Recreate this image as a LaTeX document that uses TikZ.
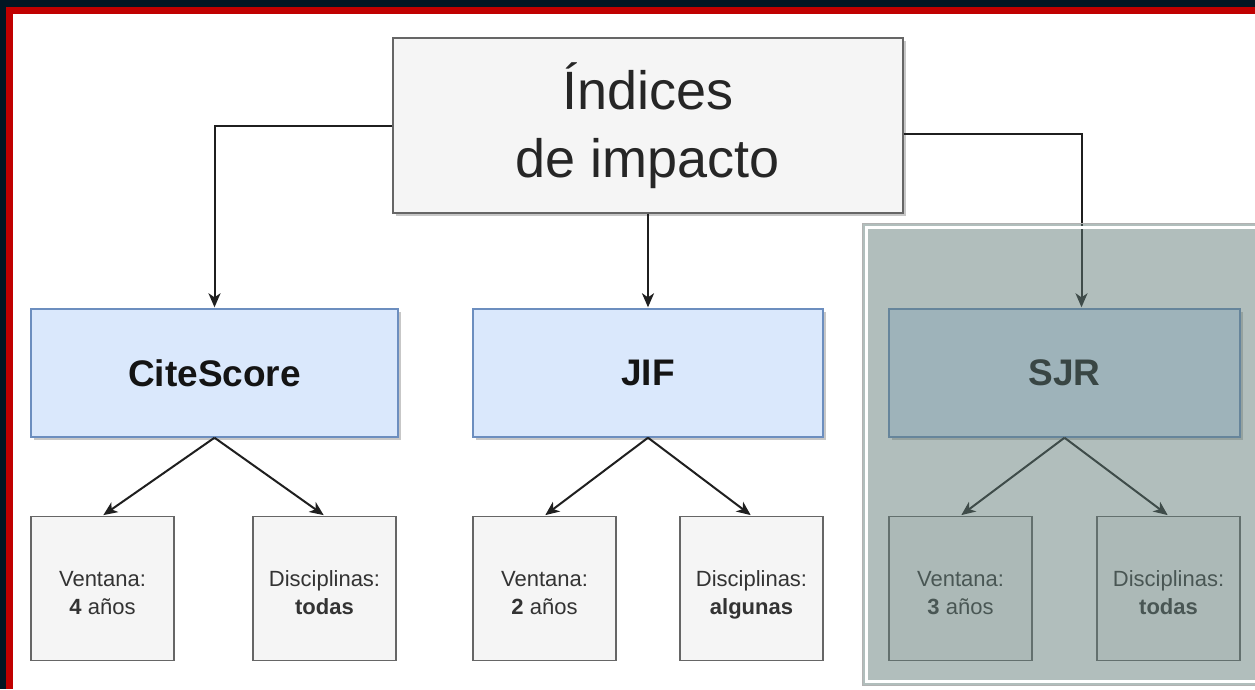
\documentclass[tikz,border=0pt]{standalone}
\usepackage{fontspec}
\setmainfont{Liberation Sans}
\usetikzlibrary{positioning,arrows.meta,shadows}

\definecolor{framenavy}{HTML}{021623}
\definecolor{framered}{HTML}{C00000}
\definecolor{boxgray}{HTML}{F5F5F5}
\definecolor{edgegray}{HTML}{666666}
\definecolor{boxblue}{HTML}{DAE8FC}
\definecolor{edgeblue}{HTML}{6C8EBF}
\definecolor{veil}{RGB}{97,124,119}
\definecolor{inkgray}{HTML}{333333}

% two lines of a leaf, with fixed top and bottom
\newcommand\leaftext[2]{\rule{0pt}{29pt}#1\\#2\rule[-5pt]{0pt}{5pt}}

\begin{document}
\begin{tikzpicture}[x=1pt,y=-1pt,shorten >=1pt,
            link/.style={-{Stealth[length=14pt,width=12pt,inset=4pt]},line width=2pt,draw=black!88},
            boxshadow/.style={drop shadow={shadow xshift=3pt,shadow yshift=-3pt,fill=black,opacity=0.22}},
            index node/.style={draw=edgegray,line width=1.4pt,fill=boxgray,boxshadow,minimum width=510pt,minimum height=175pt,
                align=center,text=black!85,font=\fontsize{54}{68}\selectfont},
            metric node/.style={draw=edgeblue,line width=1.4pt,fill=boxblue,boxshadow,minimum height=128pt,
                text=black!92,font=\fontsize{37}{42}\selectfont\bfseries},
            leaf node/.style={draw=edgegray,line width=1.4pt,fill=boxgray,minimum width=143pt,minimum height=144pt,
                align=center,text=inkgray,font=\fontsize{22}{28}\selectfont}]

        % Frame
        \useasboundingbox (0,0) rectangle (1255,689);
        \fill[white] (0,0) rectangle (1255,689);
        \fill[framenavy] (0,0) rectangle (1255,7);
        \fill[framenavy] (0,0) rectangle (6,689);
        \fill[framered] (6,7) rectangle (1255,14);
        \fill[framered] (6,7) rectangle (13,689);

        % Define vertices
        \node[index node] (idx) at (648,125.5) {Índices\\de impacto};
        \node[metric node,minimum width=367pt] (cs) at (214.5,373) {CiteScore};
        \node[metric node,minimum width=350pt] (jif) at (648,373) {JIF};
        \node[metric node,minimum width=351pt] (sjr) at (1064.5,373) {SJR};

        \node[leaf node] (csw) [below=78pt of cs.south west,anchor=north west] {\leaftext{Ventana:}{\textbf{4} años}};
        \node[leaf node] (csd) [below=78pt of cs.south east,anchor=north east,xshift=-2pt] {\leaftext{Disciplinas:}{\textbf{todas}}};
        \node[leaf node] (jifw) [below=78pt of jif.south west,anchor=north west] {\leaftext{Ventana:}{\textbf{2} años}};
        \node[leaf node] (jifd) [below=78pt of jif.south east,anchor=north east] {\leaftext{Disciplinas:}{\textbf{algunas}}};
        \node[leaf node] (sjrw) [below=78pt of sjr.south west,anchor=north west] {\leaftext{Ventana:}{\textbf{3} años}};
        \node[leaf node] (sjrd) [below=78pt of sjr.south east,anchor=north east] {\leaftext{Disciplinas:}{\textbf{todas}}};

        % Draw edges
        \draw[link] (idx.west) -| (cs.north);
        \draw[link] (idx.south) -- (jif.north);
        \draw[link] ([yshift=-8pt]idx.east) -| ([xshift=17pt]sjr.north);
        \path[every edge/.style={link,draw}]
            (cs.south) edge (csw.north)
            (cs.south) edge (csd.north)
            (jif.south) edge (jifw.north)
            (jif.south) edge (jifd.north)
            (sjr.south) edge (sjrw.north)
            (sjr.south) edge (sjrd.north);

        % Highlight over SJR
        \fill[veil,opacity=0.49] (862,223) rectangle (1262,686);
        \draw[white,line width=2.6pt] (866.5,227.5) rectangle (1266,681.5);
        \draw[black!30,line width=0.8pt] (862.5,223.5) rectangle (1266,685.5);

        \end{tikzpicture}
\end{document}
